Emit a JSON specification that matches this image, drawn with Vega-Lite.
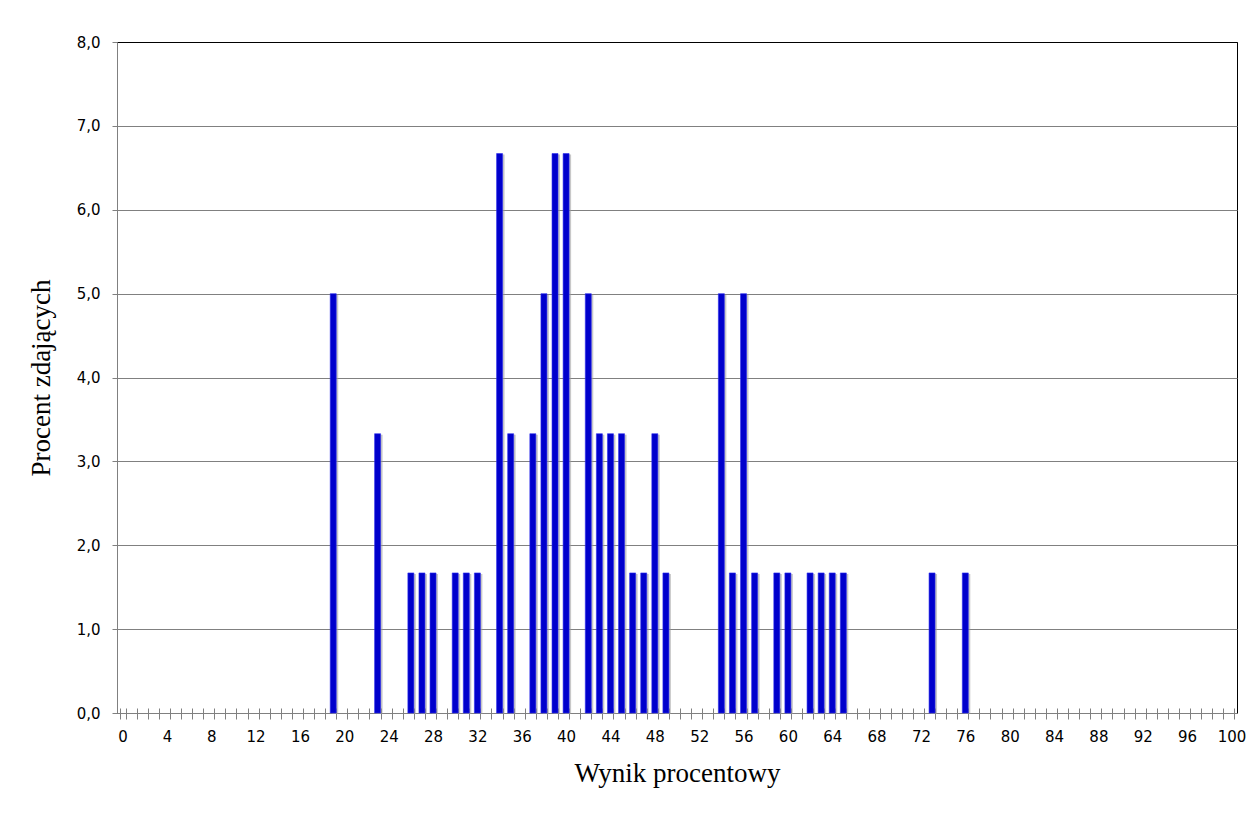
{
  "$schema": "https://vega.github.io/schema/vega-lite/v6.json",
  "width": 1120,
  "height": 671,
  "autosize": {"type": "none"},
  "padding": {"left": 117, "top": 42, "right": 16, "bottom": 102},
  "background": "white",
  "config": {"view": {"stroke": "#000000", "strokeWidth": 1}},
  "data": {
    "values": [
      {"wynik": 19, "procent": 5.0},
      {"wynik": 23, "procent": 3.33},
      {"wynik": 26, "procent": 1.67},
      {"wynik": 27, "procent": 1.67},
      {"wynik": 28, "procent": 1.67},
      {"wynik": 30, "procent": 1.67},
      {"wynik": 31, "procent": 1.67},
      {"wynik": 32, "procent": 1.67},
      {"wynik": 34, "procent": 6.67},
      {"wynik": 35, "procent": 3.33},
      {"wynik": 37, "procent": 3.33},
      {"wynik": 38, "procent": 5.0},
      {"wynik": 39, "procent": 6.67},
      {"wynik": 40, "procent": 6.67},
      {"wynik": 42, "procent": 5.0},
      {"wynik": 43, "procent": 3.33},
      {"wynik": 44, "procent": 3.33},
      {"wynik": 45, "procent": 3.33},
      {"wynik": 46, "procent": 1.67},
      {"wynik": 47, "procent": 1.67},
      {"wynik": 48, "procent": 3.33},
      {"wynik": 49, "procent": 1.67},
      {"wynik": 54, "procent": 5.0},
      {"wynik": 55, "procent": 1.67},
      {"wynik": 56, "procent": 5.0},
      {"wynik": 57, "procent": 1.67},
      {"wynik": 59, "procent": 1.67},
      {"wynik": 60, "procent": 1.67},
      {"wynik": 62, "procent": 1.67},
      {"wynik": 63, "procent": 1.67},
      {"wynik": 64, "procent": 1.67},
      {"wynik": 65, "procent": 1.67},
      {"wynik": 73, "procent": 1.67},
      {"wynik": 76, "procent": 1.67}
    ]
  },
  "resolve": {"axis": {"x": "independent"}},
  "layer": [
    {
      "mark": {"type": "bar", "color": "#9a9a9a", "opacity": 0.55, "xOffset": 2, "yOffset": 1},
      "encoding": {
        "x": {
          "field": "wynik",
          "type": "ordinal",
          "scale": {
            "domain": [0,1,2,3,4,5,6,7,8,9,10,11,12,13,14,15,16,17,18,19,20,21,22,23,24,25,26,27,28,29,30,31,32,33,34,35,36,37,38,39,40,41,42,43,44,45,46,47,48,49,50,51,52,53,54,55,56,57,58,59,60,61,62,63,64,65,66,67,68,69,70,71,72,73,74,75,76,77,78,79,80,81,82,83,84,85,86,87,88,89,90,91,92,93,94,95,96,97,98,99,100],
            "paddingInner": 0.46,
            "paddingOuter": 0.23
          },
          "axis": {
            "orient": "bottom",
            "title": null,
            "labels": false,
            "domain": false,
            "grid": false,
            "tickBand": "extent",
            "tickSize": -5,
            "tickColor": "#808080"
          }
        },
        "y": {"field": "procent", "type": "quantitative"}
      }
    },
    {
      "mark": {"type": "bar", "color": "#0000cc", "stroke": "#2b2bee", "strokeWidth": 0.6},
      "encoding": {
        "x": {
          "field": "wynik",
          "type": "ordinal",
          "axis": {
            "orient": "bottom",
            "title": "Wynik procentowy",
            "labelAngle": 0,
            "labelExpr": "datum.value % 4 == 0 ? datum.label : ''",
            "grid": false,
            "tickBand": "extent",
            "tickSize": 6,
            "tickColor": "#808080",
            "domainColor": "#808080",
            "labelFont": "DejaVu Sans",
            "labelFontSize": 15,
            "labelColor": "#000000",
            "labelPadding": 10,
            "titleFont": "Liberation Serif",
            "titleFontSize": 27,
            "titleFontWeight": "normal",
            "titleColor": "#000000",
            "titlePadding": 16
          }
        },
        "y": {
          "field": "procent",
          "type": "quantitative",
          "scale": {"domain": [0, 8]},
          "axis": {
            "title": "Procent zdających",
            "values": [0, 1, 2, 3, 4, 5, 6, 7, 8],
            "labelExpr": "replace(format(datum.value, '.1f'), '.', ',')",
            "grid": true,
            "gridColor": {"condition": {"test": "datum.value == 8", "value": "#000000"}, "value": "#808080"},
            "tickSize": 5,
            "tickColor": "#808080",
            "domainColor": "#808080",
            "labelFont": "DejaVu Sans",
            "labelFontSize": 15,
            "labelColor": "#000000",
            "labelPadding": 12,
            "titleFont": "Liberation Serif",
            "titleFontSize": 27,
            "titleFontWeight": "normal",
            "titleColor": "#000000",
            "titlePadding": 21
          }
        }
      }
    }
  ]
}
